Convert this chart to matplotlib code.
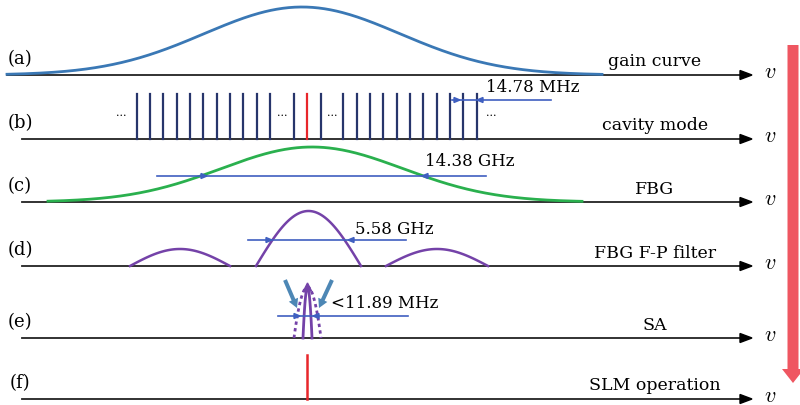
import numpy as np
import matplotlib.pyplot as plt
from matplotlib.patches import FancyArrow, Polygon

plt.rcParams['mathtext.fontset'] = 'cm'

# rows of the schematic (pixel positions)
row_tags = ['(a)', '(b)', '(c)', '(d)', '(e)', '(f)']
row_names = ['gain curve', 'cavity mode', 'FBG', 'FBG F-P filter', 'SA', 'SLM operation']
baselines = [75, 139, 202, 266, 338, 399]
line_starts = [7, 22, 22, 22, 22, 22]

# (a) gain curve: center, width, height, extent
gain = dict(center=302, sigma=98, height=68, x0=7, x1=602)
# (b) cavity modes
modes_left = [137, 150, 163, 177, 190, 203, 217, 230, 243, 257, 270]
modes_mid = [294, 321]
modes_right = [343, 357, 370, 383, 397, 410, 423, 437, 450, 463, 477]
lasing_mode = 307
mode_top = 94
dots_x = [121, 282, 332, 491]
# (c) FBG
fbg = dict(center=312, sigma=91, height=55, x0=48, x1=582)
# (d) F-P filter lobes: (left foot, right foot, height)
fp_lobes = [(130, 230, 17), (256, 361, 55), (386, 488, 17)]
# (e) SA
sa_outer = (294, 321, 51)
sa_inner = (303, 312, 51)

# width markers: (y, x_from, x_to, left head, right head, text, text x, text y)
widths = [
    (100, 452, 551, 460, 477, '14.78 MHz', 486, 88),
    (176, 157, 486, 207, 422, '14.38 GHz', 425, 161),
    (240, 248, 406, 272, 348, '5.58 GHz', 355, 229),
    (316, 278, 408, 300, 313, '<11.89 MHz', 331, 304),
]

fig = plt.figure(figsize=(8, 4.05), dpi=100)
ax = fig.add_axes([0, 0, 1, 1])
ax.set_xlim(0, 800)
ax.set_ylim(405, 0)
ax.axis('off')

serif = 'DejaVu Serif'
blue_line = '#3f5fc0'

# axes lines with arrows, tags and names
for tag, name, y0, xs in zip(row_tags, row_names, baselines, line_starts):
    ax.plot([xs, 742], [y0, y0], color='#222222', lw=1.3, zorder=1)
    ax.add_patch(Polygon([[740, y0 - 4.5], [752, y0], [740, y0 + 4.5]],
                         closed=True, color='black', zorder=2))
    ax.text(770, y0 - 3, r'$v$', fontsize=16, ha='center', va='center')
    ax.text(20, y0 - 16, tag, fontsize=13, ha='center', va='center', family=serif)
    ax.text(655, y0 - 13, name, fontsize=12.5, ha='center', va='center', family=serif)

# (a) gain curve
x = np.linspace(gain['x0'], gain['x1'], 400)
ax.plot(x, baselines[0] - gain['height'] * np.exp(-(x - gain['center']) ** 2 / (2 * gain['sigma'] ** 2)),
        color='#3a78b5', lw=2, zorder=3)

# (b) cavity modes
yb = baselines[1]
for xm in modes_left + modes_mid + modes_right:
    ax.plot([xm, xm], [yb, mode_top], color='#27356b', lw=1.6, zorder=3)
ax.plot([lasing_mode, lasing_mode], [yb, mode_top], color='#e8262b', lw=1.6, zorder=3)
for xd in dots_x:
    ax.text(xd, 113, '...', fontsize=8, ha='center', va='center', family=serif)

# (c) FBG
x = np.linspace(fbg['x0'], fbg['x1'], 400)
ax.plot(x, baselines[2] - fbg['height'] * np.exp(-(x - fbg['center']) ** 2 / (2 * fbg['sigma'] ** 2)),
        color='#2ab04e', lw=2, zorder=3)

# (d) F-P filter lobes
for a, b, h in fp_lobes:
    t = np.linspace(0, 1, 100)
    ax.plot(a + (b - a) * t, baselines[3] - h * np.sin(np.pi * t), color='#7442a8', lw=1.8, zorder=3)

# (e) SA
ye = baselines[4]
for (a, b, h), ls in [(sa_outer, (0, (1.2, 1.2))), (sa_inner, '-')]:
    t = np.linspace(0, 1, 100)
    ax.plot(a + (b - a) * t, ye - h * (1 - (2 * t - 1) ** 2), color='#7442a8', lw=2, ls=ls, zorder=3)
ax.add_patch(Polygon([[303.5, 291], [307.5, 283], [311.5, 291]], closed=True, color='#7442a8', zorder=4))
for (x0, y0, x1, y1) in [(285, 280, 297, 308), (332, 280, 319, 308)]:
    ax.add_patch(FancyArrow(x0, y0, x1 - x0, y1 - y0, width=4, head_width=10, head_length=9,
                            length_includes_head=True, color='#4d87b5', lw=0, zorder=5))

# (f) single longitudinal mode
ax.plot([lasing_mode, lasing_mode], [baselines[5], 355], color='#e8262b', lw=1.8, zorder=3)

# width markers
for y0, xa, xb, ha_, hb_, txt, tx, ty in widths:
    ax.plot([xa, xb], [y0, y0], color=blue_line, lw=1.2, zorder=4)
    ax.add_patch(Polygon([[ha_ - 6, y0 - 2.5], [ha_, y0], [ha_ - 6, y0 + 2.5]], closed=True, color=blue_line, zorder=4))
    ax.add_patch(Polygon([[hb_ + 6, y0 - 2.5], [hb_, y0], [hb_ + 6, y0 + 2.5]], closed=True, color=blue_line, zorder=4))
    ax.text(tx, ty, txt, fontsize=12, ha='left', va='center', family=serif)

# big red arrow on the right
ax.add_patch(FancyArrow(793, 45, 0, 338, width=11, head_width=22, head_length=14,
                        length_includes_head=True, color='#ef5661', lw=0, zorder=2))

fig.savefig('out.png', dpi=100)
